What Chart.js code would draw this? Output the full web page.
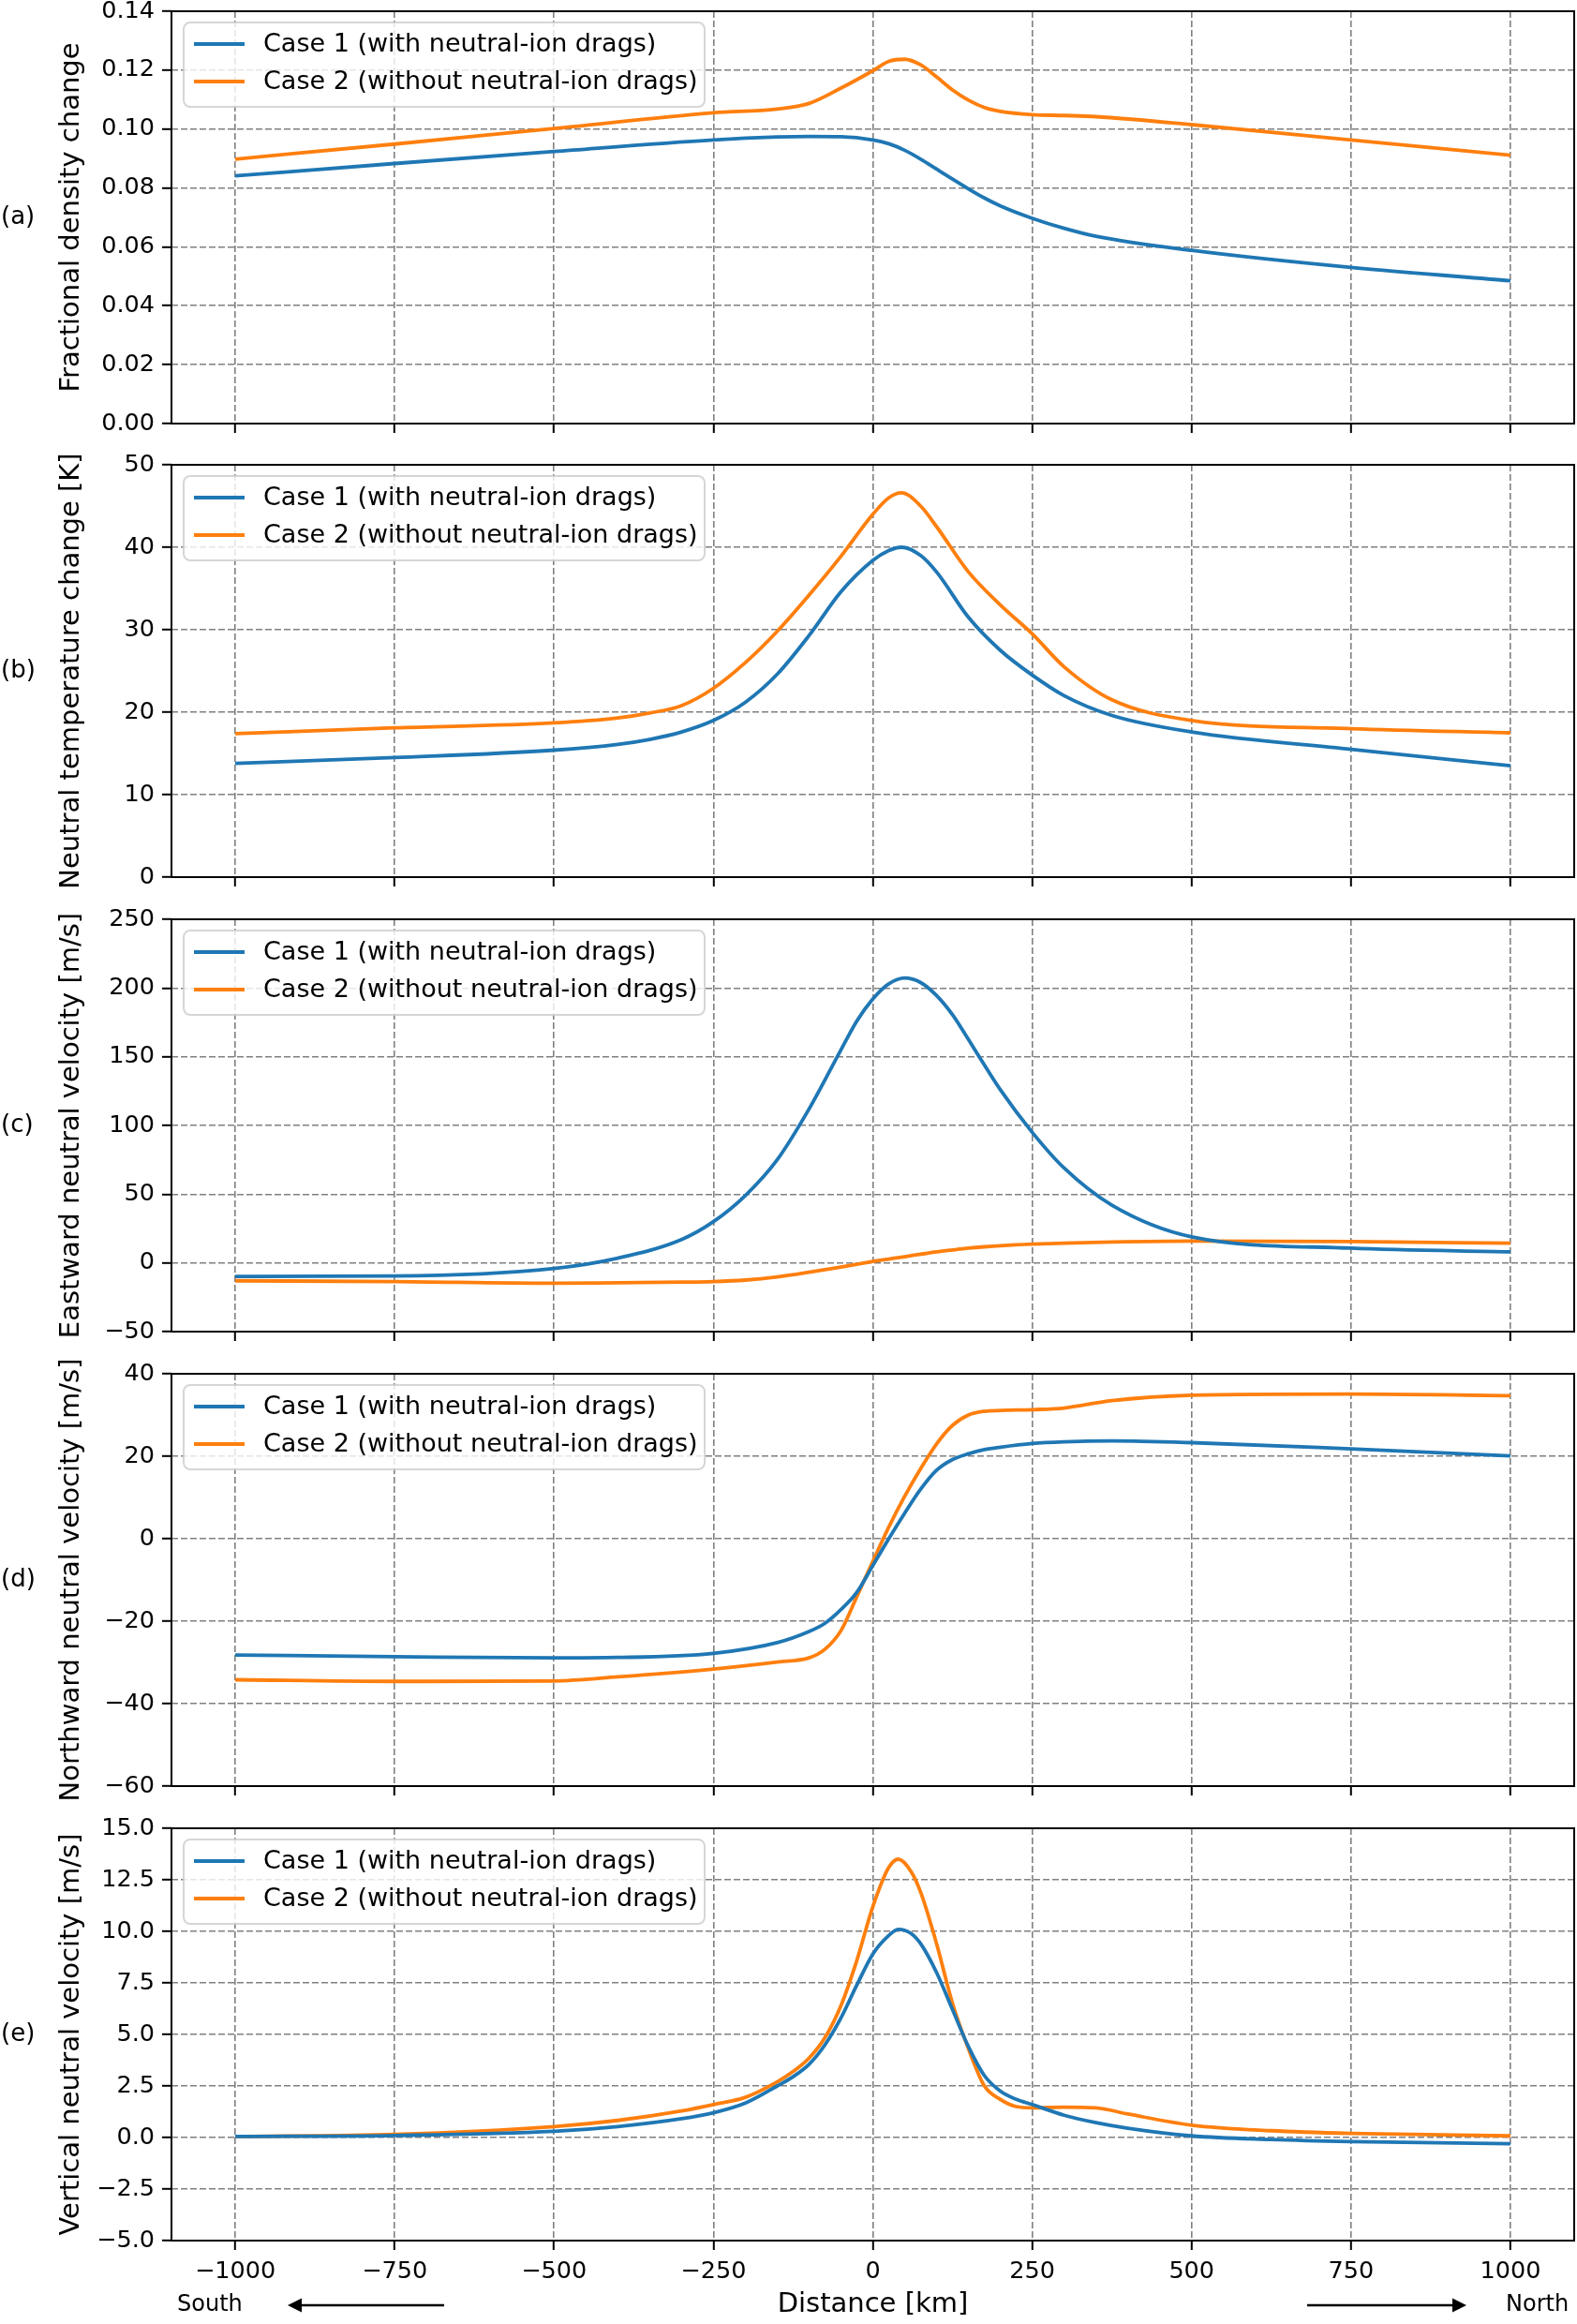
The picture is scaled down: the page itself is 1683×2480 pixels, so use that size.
<!DOCTYPE html>
<html>
<head>
<meta charset="utf-8">
<title>Neutral response along the track</title>
<script src="https://cdn.jsdelivr.net/npm/chart.js@4.4.1/dist/chart.umd.min.js"></script>
<style>
  html, body { margin: 0; padding: 0; background: #fff; overflow: hidden; }
  #figure { position: relative; width: 1683px; height: 2480px; background: #fff; overflow: hidden; }
  #figure canvas { position: absolute; left: 0; }
</style>
</head>
<body>
<div id="figure"></div>
<script>
// x axis (distance, km)
const distTicks = [-1000, -750, -500, -250, 0, 250, 500, 750, 1000];
const seriesLabels = ["Case 1 (with neutral-ion drags)", "Case 2 (without neutral-ion drags)"];

// (a) fractional density change
const distA = [-1000, -750, -500, -250, -150, -100, -50, 0, 25, 50, 75, 100, 125, 150, 175, 200, 250, 300, 350, 500, 750, 1000];
const densCase1 = [0.0841, 0.0883, 0.0924, 0.0963, 0.0973, 0.0975, 0.0974, 0.0963, 0.095, 0.0928, 0.0898, 0.0864, 0.083, 0.0797, 0.0766, 0.0739, 0.0697, 0.0663, 0.0636, 0.0588, 0.053, 0.0485];
const densCase2 = [0.0898, 0.0949, 0.1002, 0.1055, 0.1068, 0.1087, 0.1139, 0.1198, 0.123, 0.1237, 0.1218, 0.1177, 0.1133, 0.1098, 0.1073, 0.106, 0.1049, 0.1046, 0.1042, 0.1015, 0.0963, 0.0911];
const densTicks = [0, 0.02, 0.04, 0.06, 0.08, 0.1, 0.12, 0.14];

// (b) neutral temperature change [K]
const distB = [-1000, -750, -500, -400, -350, -300, -250, -200, -150, -100, -50, 0, 25, 45, 75, 100, 150, 200, 250, 300, 375, 500, 750, 1000];
const tempCase1 = [13.8, 14.5, 15.4, 16.1, 16.7, 17.6, 19.0, 21.2, 24.6, 29.3, 34.6, 38.4, 39.6, 40.0, 39.0, 37.0, 31.5, 27.5, 24.5, 22.0, 19.6, 17.6, 15.5, 13.5];
const tempCase2 = [17.4, 18.1, 18.7, 19.3, 19.9, 20.8, 22.9, 26.0, 29.8, 34.2, 38.9, 44.0, 46.0, 46.6, 45.0, 42.5, 37.0, 33.0, 29.5, 25.5, 21.5, 19.0, 18.0, 17.5];
const tempTicks = [0, 10, 20, 30, 40, 50];

// (c) eastward neutral velocity [m/s]
const distC = [-1000, -750, -500, -400, -300, -250, -200, -150, -100, -50, -25, 0, 25, 50, 75, 100, 125, 150, 175, 200, 250, 300, 375, 500, 750, 1000];
const eastCase1 = [-9.8, -9.5, -4.0, 3.5, 17, 30, 49, 75, 112, 155, 176, 192, 203, 207.3, 204, 194.5, 180.5, 162.5, 144, 126, 95, 69, 42, 19, 10.7, 8.0];
const eastCase2 = [-13.0, -13.6, -14.8, -14.4, -14.0, -13.6, -12.5, -10.2, -6.8, -3.0, -1.0, 1.1, 2.8, 4.5, 6.3, 8.0, 9.4, 10.7, 11.7, 12.5, 13.6, 14.3, 15.2, 15.9, 15.5, 14.3];
const eastTicks = [-50, 0, 50, 100, 150, 200, 250];

// (d) northward neutral velocity [m/s]
const distD = [-1000, -750, -500, -400, -250, -150, -100, -75, -50, -25, 0, 25, 50, 75, 100, 125, 150, 175, 200, 250, 300, 375, 500, 750, 1000];
const northCase1 = [-28.2, -28.6, -28.9, -28.8, -27.8, -25.2, -22.5, -20.5, -17.2, -13.0, -6.5, 0.0, 6.2, 12.0, 16.6, 19.2, 20.6, 21.6, 22.2, 23.1, 23.5, 23.7, 23.3, 21.8, 20.1];
const northCase2 = [-34.2, -34.6, -34.5, -33.5, -31.6, -29.9, -28.9, -26.8, -22.3, -14.0, -5.5, 2.8, 10.3, 17.0, 23.0, 27.5, 30.0, 30.9, 31.1, 31.3, 31.7, 33.5, 34.8, 35.1, 34.7];
const northTicks = [-60, -40, -20, 0, 20, 40];

// (e) vertical neutral velocity [m/s]
const distE = [-1000, -750, -500, -400, -300, -250, -200, -150, -125, -100, -75, -50, -25, 0, 25, 40, 60, 75, 100, 125, 150, 175, 200, 225, 250, 300, 350, 400, 500, 625, 750, 1000];
const vertCase1 = [0.05, 0.1, 0.3, 0.53, 0.91, 1.2, 1.67, 2.5, 2.95, 3.55, 4.5, 5.8, 7.4, 8.9, 9.8, 10.1, 9.9, 9.4, 8.0, 6.2, 4.4, 3.0, 2.25, 1.85, 1.6, 1.08, 0.72, 0.45, 0.08, -0.1, -0.2, -0.3];
const vertCase2 = [0.05, 0.15, 0.53, 0.83, 1.29, 1.6, 1.95, 2.7, 3.2, 3.85, 4.85, 6.4, 8.6, 11.2, 13.1, 13.5, 12.9, 11.9, 9.4, 6.5, 4.3, 2.5, 1.85, 1.5, 1.44, 1.47, 1.44, 1.14, 0.6, 0.33, 0.2, 0.08];
const vertTicks = [-5, -2.5, 0, 2.5, 5, 7.5, 10, 12.5, 15];

const panels = [
  { letter: "(a)", yTitle: "Fractional density change", dist: distA, case1: densCase1, case2: densCase2, ticks: densTicks, decimals: 2 },
  { letter: "(b)", yTitle: "Neutral temperature change [K]", dist: distB, case1: tempCase1, case2: tempCase2, ticks: tempTicks, decimals: 0 },
  { letter: "(c)", yTitle: "Eastward neutral velocity [m/s]", dist: distC, case1: eastCase1, case2: eastCase2, ticks: eastTicks, decimals: 0 },
  { letter: "(d)", yTitle: "Northward neutral velocity [m/s]", dist: distD, case1: northCase1, case2: northCase2, ticks: northTicks, decimals: 0 },
  { letter: "(e)", yTitle: "Vertical neutral velocity [m/s]", dist: distE, case1: vertCase1, case2: vertCase2, ticks: vertTicks, decimals: 1 },
];

// layout (pixels)
const panelTops = [12, 496, 981, 1466, 1951];
const CANVAS_H = 600;
const PAD_TOP = 60;
const FONT = '"DejaVu Sans", sans-serif';
const BLUE = "#1f77b4";
const ORANGE = "#ff7f0e";

Chart.defaults.font.family = FONT;
Chart.defaults.color = "#000";

function fmt(v, decimals) {
  const s = Math.abs(v).toFixed(decimals);
  return v < -1e-9 ? "\u2212" + s : s;
}

function toPoints(xs, ys) {
  return xs.map((x, i) => ({ x: x, y: ys[i] }));
}

function arrow(ctx, x1, x2, y) {
  // line from x1 towards x2 with a filled head at x2
  const dir = Math.sign(x2 - x1);
  ctx.beginPath();
  ctx.moveTo(x1, y);
  ctx.lineTo(x2 - dir * 12, y);
  ctx.stroke();
  ctx.beginPath();
  ctx.moveTo(x2, y);
  ctx.lineTo(x2 - dir * 15, y - 7.5);
  ctx.lineTo(x2 - dir * 15, y + 7.5);
  ctx.closePath();
  ctx.fill();
}

// frame, legend, y label, panel letter, direction arrows
const figurePlugin = {
  id: "figurePlugin",
  afterDraw(chart, args, opts) {
    const ctx = chart.ctx;
    const area = chart.chartArea;
    const midY = (area.top + area.bottom) / 2;
    ctx.save();

    // box around the axes
    ctx.strokeStyle = "#000";
    ctx.lineWidth = 2;
    ctx.strokeRect(area.left, area.top, area.right - area.left, area.bottom - area.top);

    // legend
    const lx = area.left + 13, ly = area.top + 12, lw = 556, lh = 90, r = 7;
    ctx.beginPath();
    ctx.moveTo(lx + r, ly);
    ctx.arcTo(lx + lw, ly, lx + lw, ly + lh, r);
    ctx.arcTo(lx + lw, ly + lh, lx, ly + lh, r);
    ctx.arcTo(lx, ly + lh, lx, ly, r);
    ctx.arcTo(lx, ly, lx + lw, ly, r);
    ctx.closePath();
    ctx.fillStyle = "rgba(255,255,255,0.8)";
    ctx.fill();
    ctx.strokeStyle = "rgba(204,204,204,0.8)";
    ctx.lineWidth = 2;
    ctx.stroke();
    ctx.font = "27px " + FONT;
    ctx.textBaseline = "middle";
    ctx.textAlign = "left";
    chart.data.datasets.forEach((ds, i) => {
      const y = area.top + 35 + i * 40;
      ctx.strokeStyle = ds.borderColor;
      ctx.lineWidth = 3.8;
      ctx.beginPath();
      ctx.moveTo(area.left + 24, y);
      ctx.lineTo(area.left + 78, y);
      ctx.stroke();
      ctx.fillStyle = "#000";
      ctx.fillText(ds.label, area.left + 98, y + 1);
    });

    // panel letter
    ctx.font = "26px " + FONT;
    ctx.fillStyle = "#000";
    ctx.fillText(opts.letter, 1, midY);

    // y axis label (may run past the axes height, like the original)
    ctx.save();
    ctx.translate(76, midY);
    ctx.rotate(-Math.PI / 2);
    ctx.textAlign = "center";
    ctx.font = "29px " + FONT;
    ctx.fillText(opts.yTitle, 0, 0);
    ctx.restore();

    if (opts.arrows) {
      const y = area.bottom + 69;
      ctx.font = "24px " + FONT;
      ctx.fillStyle = "#000";
      ctx.strokeStyle = "#000";
      ctx.lineWidth = 2.5;
      ctx.textAlign = "left";
      ctx.fillText("South", 189, y);
      ctx.fillText("North", 1607, y);
      arrow(ctx, 474, 307, y);
      arrow(ctx, 1395, 1565, y);
    }
    ctx.restore();
  },
};

const figure = document.getElementById("figure");

function makePanel(p, index) {
  const isLast = index === panels.length - 1;
  const canvas = document.createElement("canvas");
  canvas.width = 1683;
  canvas.height = CANVAS_H;
  canvas.style.top = panelTops[index] - PAD_TOP + "px";
  figure.appendChild(canvas);

  const gridStyle = {
    color: "#808080",
    lineWidth: 1.6,
    borderDash: [7, 3],
    tickColor: "#000",
    tickWidth: 2,
    tickLength: 10,
    tickBorderDash: [],
  };

  return new Chart(canvas, {
    type: "line",
    data: {
      datasets: [
        {
          label: seriesLabels[0],
          data: toPoints(p.dist, p.case1),
          borderColor: BLUE,
          borderWidth: 3.8,
          pointRadius: 0,
          fill: false,
          cubicInterpolationMode: "monotone",
        },
        {
          label: seriesLabels[1],
          data: toPoints(p.dist, p.case2),
          borderColor: ORANGE,
          borderWidth: 3.8,
          pointRadius: 0,
          fill: false,
          cubicInterpolationMode: "monotone",
        },
      ],
    },
    options: {
      responsive: false,
      animation: false,
      devicePixelRatio: 1,
      events: [],
      layout: { padding: { top: PAD_TOP, right: 3, bottom: 0, left: 0 } },
      plugins: {
        legend: { display: false },
        tooltip: { enabled: false },
        figurePlugin: { letter: p.letter, yTitle: p.yTitle, arrows: isLast },
      },
      scales: {
        x: {
          type: "linear",
          position: "bottom",
          min: -1100,
          max: 1100,
          afterBuildTicks: (axis) => {
            axis.ticks = distTicks.map((v) => ({ value: v }));
          },
          afterFit: (axis) => {
            axis.height = CANVAS_H - PAD_TOP - 440;
          },
          grid: gridStyle,
          border: { display: false, dash: [7, 3] },
          ticks: {
            display: isLast,
            padding: 8,
            maxRotation: 0,
            font: { size: 25.5 },
            color: "#000",
            callback: (v) => fmt(v, 0),
          },
          title: {
            display: isLast,
            text: "Distance [km]",
            font: { size: 29 },
            color: "#000",
            padding: { top: 0, bottom: 14 },
          },
        },
        y: {
          type: "linear",
          min: p.ticks[0],
          max: p.ticks[p.ticks.length - 1],
          afterBuildTicks: (axis) => {
            axis.ticks = p.ticks.map((v) => ({ value: v }));
          },
          afterFit: (axis) => {
            axis.width = 183;
          },
          grid: gridStyle,
          border: { display: false, dash: [7, 3] },
          ticks: {
            padding: 8,
            font: { size: 25.5 },
            color: "#000",
            callback: (v) => fmt(v, p.decimals),
          },
        },
      },
    },
    plugins: [figurePlugin],
  });
}

panels.forEach(makePanel);
</script>
</body>
</html>
